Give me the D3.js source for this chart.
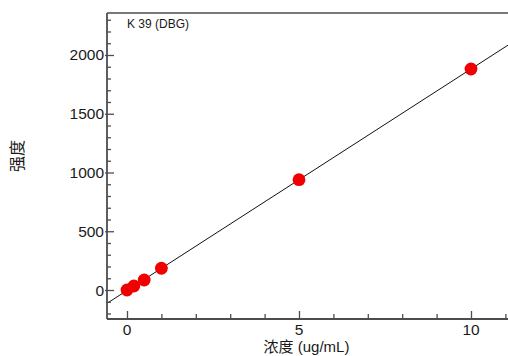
<!DOCTYPE html>
<html>
<head>
<meta charset="utf-8">
<script src="https://cdn.jsdelivr.net/npm/d3@7"></script>
<style>
  html, body { margin: 0; padding: 0; background: #fff; }
  svg { display: block; }
  text { font-family: "Liberation Sans", Arial, sans-serif; }
</style>
</head>
<body>
<svg id="chart" width="508" height="356"></svg>
<script>
// Calibration data: K 39 (DBG)
const concentrations = [0, 0.2, 0.5, 1, 5, 10];
const intensities = [0, 34, 85, 185, 939, 1881];

const xMajorTicks = [0, 5, 10];
const xMinorTicks = [1, 2, 3, 4, 6, 7, 8, 9, 11];
const yMajorTicks = [0, 500, 1000, 1500, 2000];
const yMinorTicks = [-200, -100, 100, 200, 300, 400, 600, 700, 800, 900,
  1100, 1200, 1300, 1400, 1600, 1700, 1800, 1900, 2100, 2200, 2300];

const seriesLabel = "K 39 (DBG)";
const xTitle = "浓度 (ug/mL)";
const yTitle = "强度";

const plot = { left: 107, top: 13, right: 520, bottom: 319 };

const x = d3.scaleLinear().domain([-0.5814, 11.4244]).range([plot.left, plot.right]);
const y = d3.scaleLinear().domain([-246.8, 2357.4]).range([plot.bottom, plot.top]);

const svg = d3.select("#chart");

svg.append("clipPath").attr("id", "plotClip")
  .append("rect")
  .attr("x", plot.left).attr("y", plot.top)
  .attr("width", plot.right - plot.left).attr("height", plot.bottom - plot.top);

// least-squares calibration line
const n = concentrations.length;
const mx = d3.mean(concentrations), my = d3.mean(intensities);
let sxy = 0, sxx = 0;
for (let i = 0; i < n; i++) {
  sxy += (concentrations[i] - mx) * (intensities[i] - my);
  sxx += (concentrations[i] - mx) ** 2;
}
const slope = sxy / sxx, intercept = my - slope * mx;
const [x0, x1] = x.domain();

const g = svg.append("g").attr("clip-path", "url(#plotClip)");
g.append("line")
  .attr("x1", x(x0)).attr("y1", y(intercept + slope * x0))
  .attr("x2", x(x1)).attr("y2", y(intercept + slope * x1))
  .attr("stroke", "#111").attr("stroke-width", 1);

g.selectAll("circle").data(concentrations.map((c, i) => [c, intensities[i]]))
  .enter().append("circle")
  .attr("cx", d => x(d[0])).attr("cy", d => y(d[1]))
  .attr("r", 6.4)
  .attr("fill", "#f20000");

// frame lines
const axisColor = "#4d4d4d";
svg.append("line").attr("x1", plot.left).attr("x2", plot.right)
  .attr("y1", plot.top).attr("y2", plot.top)
  .attr("stroke", axisColor).attr("stroke-width", 1.5);

// y axis (ticks pointing inward)
const yAxis = svg.append("g").attr("transform", `translate(${plot.left},0)`);
yAxis.call(d3.axisRight(y).tickValues(yMajorTicks).tickSize(7).tickFormat(""));
yAxis.select(".domain").remove();
yAxis.selectAll(".tick line").attr("stroke", axisColor).attr("stroke-width", 1.3).attr("x1", -2);
const yMinor = svg.append("g").attr("transform", `translate(${plot.left},0)`)
  .call(d3.axisRight(y).tickValues(yMinorTicks).tickSize(4).tickFormat(""));
yMinor.select(".domain").remove();
yMinor.selectAll(".tick line").attr("stroke", axisColor).attr("stroke-width", 1.3);
svg.selectAll(".ylab").data(yMajorTicks).enter().append("text")
  .attr("class", "ylab")
  .attr("x", plot.left - 3).attr("y", d => y(d) + 5.5)
  .attr("text-anchor", "end").attr("font-size", 15.5).attr("fill", "#1a1a1a")
  .text(d => d);

// x axis (ticks pointing inward)
const xAxis = svg.append("g").attr("transform", `translate(0,${plot.bottom})`);
xAxis.call(d3.axisTop(x).tickValues(xMajorTicks).tickSize(8).tickFormat(""));
xAxis.select(".domain").remove();
xAxis.selectAll(".tick line").attr("stroke", axisColor).attr("stroke-width", 1.3);
const xMinor = svg.append("g").attr("transform", `translate(0,${plot.bottom})`)
  .call(d3.axisTop(x).tickValues(xMinorTicks).tickSize(5).tickFormat(""));
xMinor.select(".domain").remove();
xMinor.selectAll(".tick line").attr("stroke", axisColor).attr("stroke-width", 1.3);
svg.selectAll(".xlab").data(xMajorTicks).enter().append("text")
  .attr("class", "xlab")
  .attr("x", d => x(d)).attr("y", plot.bottom + 16)
  .attr("text-anchor", "middle").attr("font-size", 15.5).attr("fill", "#1a1a1a")
  .text(d => d);

svg.append("line").attr("x1", plot.left).attr("x2", plot.left)
  .attr("y1", plot.top).attr("y2", plot.bottom)
  .attr("stroke", axisColor).attr("stroke-width", 1.8);
svg.append("line").attr("x1", plot.left).attr("x2", plot.right)
  .attr("y1", plot.bottom).attr("y2", plot.bottom)
  .attr("stroke", axisColor).attr("stroke-width", 1.8);

// series label and titles
svg.append("text").attr("x", 127).attr("y", 28)
  .attr("font-size", 12).attr("fill", "#1a1a1a").text(seriesLabel);

svg.append("text").attr("x", 306.5).attr("y", 352)
  .attr("text-anchor", "middle").attr("font-size", 15).attr("fill", "#1a1a1a")
  .style("font-family", "'Liberation Sans', 'Noto Sans CJK SC', sans-serif")
  .text(xTitle);

svg.append("text")
  .attr("transform", "translate(23,156) rotate(-90)")
  .attr("text-anchor", "middle").attr("font-size", 16).attr("fill", "#1a1a1a")
  .style("font-family", "'Noto Sans CJK SC', sans-serif")
  .text(yTitle);
</script>
</body>
</html>
